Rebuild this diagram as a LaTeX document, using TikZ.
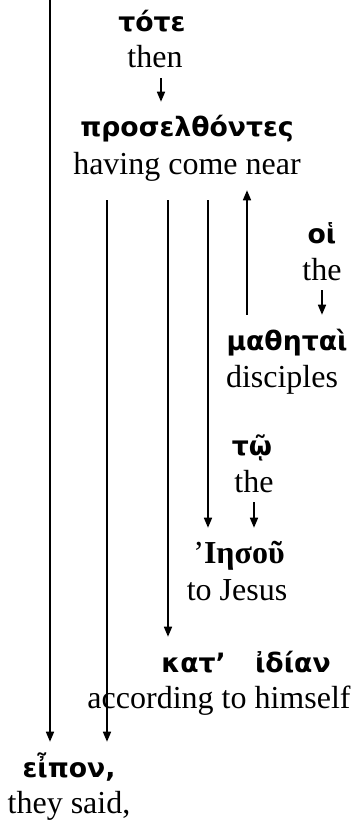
\documentclass[tikz,border=0pt]{standalone}
\usepackage{fontspec}
\setmainfont{Liberation Serif}
\newfontfamily\grk{DejaVu Sans}
\usetikzlibrary{arrows.meta}

\tikzset{
  word/.style={anchor=base, inner sep=0pt, font=\grk\bfseries\fontsize{20}{24}\selectfont,
    text height=26.25pt, text depth=5pt},
  gloss/.style={anchor=base, inner sep=0pt, font=\fontsize{24}{28}\selectfont,
    text height=17pt, text depth=7.5pt},
  arr/.style={-{Triangle[length=7.5pt,width=6pt]}, line width=1.2pt},
}

\begin{document}
\begin{tikzpicture}[x=0.75pt, y=-0.75pt]
    \useasboundingbox (0,0) rectangle (359,820);
    % words and glosses
    \node[word]  (tote)  at (152,32)  {τότε};
    \node[gloss] (then)  at (155,68)  {then};
    \node[word]  (pros)  at (187,137) {προσελθόντες};
    \node[gloss] (near)  at (187,175) {having come near};
    \node[word]  (hoi)   at (322,243) {οἱ};
    \node[gloss] (the1)  at (322,280) {the};
    \node[word]  (math)  at (287,350) {μαθηταὶ};
    \node[gloss] (disc)  at (282,387) {disciples};
    \node[word]  (tw)    at (252,455) {τῷ};
    \node[gloss] (the2)  at (254,492) {the};
    \node[word, font=\bfseries\fontsize{24}{28}\selectfont]
                 (iesou) at (239,563) {{\mdseries ’}Ιησοῦ};
    \node[gloss] (jesus) at (237,600) {to Jesus};
    \node[word]  (kat)   at (246,672) {κατ’\hspace{22pt}ἰδίαν};
    \node[gloss] (self)  at (219,708) {according to himself};
    \node[word]  (eipon) at (69,777)  {εἶπον,};
    \node[gloss] (said)  at (69,813)  {they said,};
    % columns of the long lines
    \coordinate (top) at (50,0);
    \coordinate (c0) at (161,0);
    \coordinate (c1) at (107,0);
    \coordinate (c2) at (168,0);
    \coordinate (c3) at (208,0);
    \coordinate (c4) at (247,0);
    % connectors
    \draw[arr] (top) -- (top |- eipon.north);
    \draw[arr] (then.south -| c0) -- (pros.north -| c0);
    \draw[arr, shorten <=11.25pt] (near.south -| c1) -- (eipon.north -| c1);
    \draw[arr, shorten <=11.25pt] (near.south -| c2) -- (kat.north -| c2);
    \draw[arr, shorten <=11.25pt] (near.south -| c3) -- (iesou.north -| c3);
    \draw[arr, shorten >=3.75pt] (math.north -| c4) -- (near.south -| c4);
    \draw[arr] (the1.south) -- (the1.south |- math.north);
    \draw[arr] (the2.south) -- (the2.south |- iesou.north);
\end{tikzpicture}
\end{document}
